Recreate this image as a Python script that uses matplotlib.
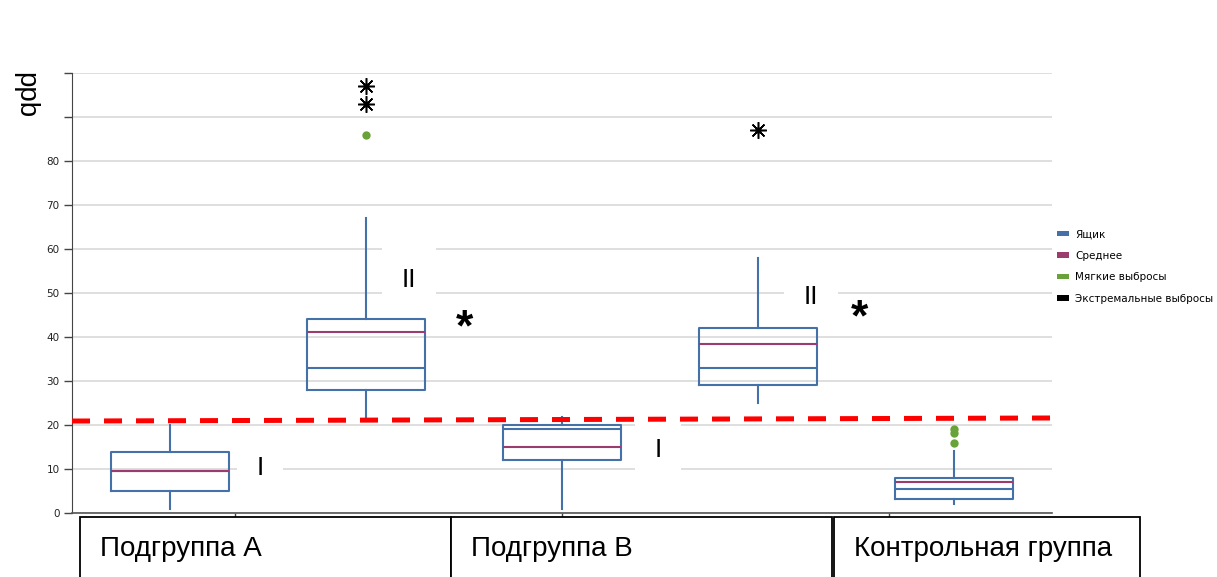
import matplotlib.pyplot as plt
from matplotlib.patches import Patch, Rectangle

# five boxes: (group, level)
positions = [0, 1, 2, 3, 4]
whislo = [1.0, 21.0, 1.0, 25.0, 2.0]
q1 = [5.0, 28.0, 12.0, 29.0, 3.2]
med = [9.6, 33.0, 19.2, 33.0, 5.5]
mean = [9.6, 41.2, 15.0, 38.4, 7.0]
q3 = [13.8, 44.1, 20.0, 42.0, 8.0]
whishi = [20.0, 67.0, 21.8, 58.0, 14.0]

soft_x = [1, 4, 4, 4]
soft_y = [86.0, 19.1, 18.2, 16.0]
extreme_x = [1, 1, 3]
extreme_y = [97.0, 93.0, 87.0]

threshold_x = [-0.5, 4.55]
threshold_y = [20.9, 21.6]

group_labels = ["Подгруппа А", "Подгруппа В", "Контрольная группа"]
legend_labels = ["Ящик", "Среднее", "Мягкие выбросы", "Экстремальные выбросы"]

# roman numerals / significance marks on the plot
marks = [("I", 0.46, 10.2), ("II", 1.22, 53.0), ("I", 2.49, 14.3), ("II", 3.27, 49.1)]
stars = [(1.5, 41.8), (3.52, 44.0)]

BLUE = "#4472a8"
MAGENTA = "#9c3b6e"
GREEN = "#6aa23a"
GRID = "#d9d9d9"

fig = plt.figure(figsize=(12.17, 5.77), dpi=100)
ax = fig.add_axes([72 / 1217, 64 / 577, 980 / 1217, 440 / 577])

stats = []
for i in range(len(positions)):
    stats.append({
        "whislo": whislo[i], "q1": q1[i], "med": med[i], "mean": mean[i],
        "q3": q3[i], "whishi": whishi[i], "fliers": [],
    })

ax.bxp(
    stats,
    positions=positions,
    widths=0.6,
    showmeans=True,
    meanline=True,
    showcaps=False,
    boxprops=dict(color=BLUE, lw=1.5),
    whiskerprops=dict(color=BLUE, lw=1.5),
    medianprops=dict(color=BLUE, lw=1.5),
    meanprops=dict(color=MAGENTA, lw=1.5, linestyle="-"),
    zorder=3,
)

ax.plot(soft_x, soft_y, "o", color=GREEN, ms=6, mec="none", zorder=4)
ax.plot(extreme_x, extreme_y, ls="none", marker=(8, 2, 0), color="black",
        ms=12, mew=1.1, zorder=4)
ax.plot(extreme_x, extreme_y, "o", color="black", ms=3.5, zorder=5)

ax.plot(threshold_x, threshold_y, color="#ff0000", lw=3.6,
        dashes=(3.6, 2.8), clip_on=False, zorder=6)

ax.set_xlim(-0.5, 4.5)
ax.set_ylim(0, 100)
ax.set_yticks(range(0, 101, 10))
ax.set_yticklabels([str(v) if v <= 80 else "" for v in range(0, 101, 10)])
ax.set_xticks([0.332, 2.0, 3.668])
ax.set_xticklabels([])
ax.tick_params(axis="y", length=6, width=1, color="#444444", labelsize=7.5,
               labelcolor="#222222", pad=3)
ax.tick_params(axis="x", length=5, width=1, color="#444444")
ax.grid(axis="y", color=GRID, lw=1.2, zorder=0)
ax.set_axisbelow(True)
for s in ["top", "right"]:
    ax.spines[s].set_visible(False)
ax.spines["left"].set_color("#444444")
ax.spines["bottom"].set_color("#555555")
ax.spines["bottom"].set_linewidth(1.2)

for txt, x, y in marks:
    ax.text(x, y, txt, ha="center", va="center", fontsize=19,
            family="Liberation Sans", zorder=2,
            bbox=dict(facecolor="white", edgecolor="none", pad=14))
for x, y in stars:
    ax.text(x, y, "*", ha="center", va="center", fontsize=32,
            fontweight="bold", family="Liberation Sans", zorder=7)

fig.text(25 / 1217, 1 - 95 / 577, "ppb", rotation=270, ha="center",
         va="center", fontsize=20, family="Liberation Sans")

# white label boxes hiding the x tick labels
label_boxes = [(80, 451), (451, 832), (834, 1140)]
for (x0, x1), lab in zip(label_boxes, group_labels):
    fig.patches.append(Rectangle((x0 / 1217, -0.05), (x1 - x0) / 1217,
                                 (577 - 517) / 577 + 0.05,
                                 transform=fig.transFigure, facecolor="white",
                                 edgecolor="black", lw=1.3, zorder=10))
    fig.text((x0 + 20) / 1217, 1 - 549 / 577, lab, ha="left", va="center",
             fontsize=20, family="Liberation Sans", zorder=11)

handles = [Patch(facecolor=BLUE), Patch(facecolor=MAGENTA),
           Patch(facecolor=GREEN), Patch(facecolor="black")]
fig.legend(handles, legend_labels, loc="upper left",
           bbox_to_anchor=(1048 / 1217, 1 - 220 / 577), frameon=False,
           fontsize=7.5, handlelength=1.1, handleheight=0.45,
           handletextpad=0.6, labelspacing=1.1)

fig.savefig("out.png", dpi=100, facecolor="white")
